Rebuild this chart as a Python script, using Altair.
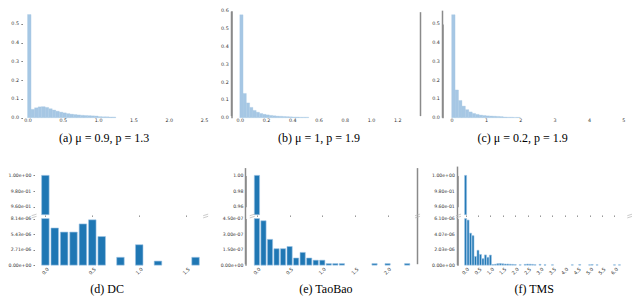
import altair as alt
import pandas as pd

W, H = 624, 289

def X(r):
    return r * 0.975 + 1

def Y(r):
    return (r - 1) * 0.945 + 2

def snap(v):
    return round(v - 0.5) + 0.5

# ---------------- data ----------------
a_bin = 0.05
a_vals = [0.550, 0.045, 0.053, 0.058, 0.059, 0.055, 0.048, 0.041, 0.035, 0.030,
          0.026, 0.022, 0.019, 0.017, 0.015, 0.013, 0.012, 0.011, 0.010, 0.009,
          0.006, 0.005, 0.005, 0.004, 0.004]
b_bin = 0.025
b_vals = [0.577, 0.136, 0.083, 0.058, 0.041, 0.031, 0.024, 0.019, 0.016, 0.013,
          0.011, 0.009, 0.008, 0.007, 0.006, 0.005, 0.004, 0.004, 0.003, 0.003, 0.003]
c_bin = 0.1
c_vals = [0.549, 0.148, 0.092, 0.062, 0.043, 0.031, 0.023, 0.018, 0.014, 0.012,
          0.010, 0.009, 0.008, 0.007, 0.006, 0.004, 0.003, 0.003, 0.002, 0.002]

dc_pos = [0.0, 0.1, 0.2, 0.3, 0.4, 0.5, 0.6, 0.8, 1.0, 1.2, 1.6]
dc_val = [1.0, 6.49e-6, 5.78e-6, 5.78e-6, 7.2e-6, 7.92e-6, 5.0e-6, 1.37e-6, 3.57e-6, 0.71e-6, 1.37e-6]

tb_pos = [0.0, 0.1, 0.2, 0.3, 0.4, 0.5, 0.6, 0.7, 0.8, 0.9, 1.0, 1.1, 1.2, 1.3, 1.8, 2.0, 2.3]
tb_val = [1.0, 4.29e-7, 2.49e-7, 1.59e-7, 1.59e-7, 1.8e-7, 0.69e-7, 1.23e-7, 0.69e-7, 0.48e-7,
          0.48e-7, 0.15e-7, 0.15e-7, 0.15e-7, 0.15e-7, 0.15e-7, 0.15e-7]

tms_pos = [0.0, 0.1, 0.2, 0.3, 0.4, 0.5, 0.6, 0.7, 0.8, 0.9, 1.0,
           1.1, 1.2, 1.3, 1.4, 1.5, 1.6, 1.7, 1.8, 1.9, 2.0,
           2.2, 2.4, 2.5, 2.6, 2.7, 2.8, 3.0, 3.2, 3.5, 4.3, 4.6, 5.0, 5.1, 5.3, 6.0, 6.2]
tms_val = [1.0, 5.9e-6, 4.19e-6, 3.86e-6, 1.14e-6, 1.95e-6, 1.4e-6, 0.85e-6, 1.34e-6, 1.02e-6, 1.32e-6,
           0.08e-6, 0.12e-6, 0.2e-6, 0.22e-6, 0.18e-6, 0.15e-6, 0.15e-6, 0.12e-6, 0.1e-6, 0.08e-6,
           0.05e-6, 0.1e-6, 0.14e-6, 0.12e-6, 0.1e-6, 0.06e-6, 0.1e-6, 0.06e-6, 0.05e-6, 0.05e-6,
           0.08e-6, 0.05e-6, 0.08e-6, 0.05e-6, 0.05e-6, 0.05e-6]

a_xticks = [0.0, 0.5, 1.0, 1.5, 2.0, 2.5]
b_xticks = [0.0, 0.2, 0.4, 0.6, 0.8, 1.0, 1.2]
c_xticks = [0, 1, 2, 3, 4, 5]
a_yticks = [0.0, 0.1, 0.2, 0.3, 0.4, 0.5]
b_yticks = [0.0, 0.1, 0.2, 0.3, 0.4, 0.5, 0.6]
c_yticks = [0.0, 0.1, 0.2, 0.3, 0.4, 0.5]

dc_xticks = [0.0, 0.5, 1.0, 1.5]
tb_xticks = [0.0, 0.5, 1.0, 1.5, 2.0]
tms_xticks = [0.0, 0.5, 1.0, 1.5, 2.0, 2.5, 3.0, 3.5, 4.0, 4.5, 5.0, 5.5, 6.0]

up_ticks = [0.96, 0.98, 1.0]
sci_up_labels = ["9.60e-01", "9.80e-01", "1.00e+00"]
tb_up_labels = ["0.96", "0.98", "1.00"]

dc_lo_ticks = [0.0, 2.7133e-6, 5.4267e-6, 8.14e-6]
dc_lo_labels = ["0.00e+00", "2.71e-06", "5.43e-06", "8.14e-06"]
tb_lo_ticks = [0.0, 1.5e-7, 3.0e-7, 4.5e-7]
tb_lo_labels = ["0.00e+00", "1.50e-07", "3.00e-07", "4.50e-07"]
tms_lo_ticks = [0.0, 2.0333e-6, 4.0667e-6, 6.1e-6]
tms_lo_labels = ["0.00e+00", "2.03e-06", "4.07e-06", "6.10e-06"]

captions = ["(a) μ = 0.9, p = 1.3", "(b) μ = 1, p = 1.9", "(c) μ = 0.2, p = 1.9",
            "(d) DC", "(e) TaoBao", "(f) TMS"]

# ---------------- styles ----------------
LIGHT = "#a6c7e4"
DARK = "#1f77b4"
EDGE = "#9cc3e4"
SPINE = "#8a8a8a"
LBL = dict(labelFont="DejaVu Sans", labelColor="#333333", grid=False,
           title=None, labelOverlap=False, labelFlush=False, labelBound=False)


def dom(show):
    if show:
        return dict(domain=True, domainColor=SPINE, domainWidth=1.5)
    return dict(domain=False)


def label_expr(values, labels):
    expr = "''"
    for v, l in reversed(list(zip(values, labels))):
        expr = f"datum.value == {v!r} ? '{l}' : ({expr})"
    return expr


def top_hist(vals, binw, xdom, xr, xticks, xfmt, ydom, yr, yticks, yaxis_x, ytick, ypad, spine):
    df = pd.DataFrame({"x0": [i * binw for i in range(len(vals))], "v": vals})
    df["x1"] = df["x0"] + binw
    return alt.Chart(df).mark_bar(color=LIGHT, stroke=LIGHT, strokeWidth=0.3).encode(
        x=alt.X("x0:Q",
                scale=alt.Scale(domain=xdom, range=xr, nice=False, zero=False),
                axis=alt.Axis(orient="bottom", offset=yr[0] - H, values=xticks, format=xfmt,
                              ticks=False, tickSize=0, labelPadding=2.5, labelFontSize=4.8,
                              labelAlign="center", labelBaseline="middle", domain=False, **LBL)),
        x2="x1:Q",
        y=alt.Y("v:Q",
                scale=alt.Scale(domain=ydom, range=yr, nice=False, zero=False),
                axis=alt.Axis(orient="left", offset=-snap(yaxis_x), values=yticks, format=".1f",
                              ticks=ytick > 0, tickSize=ytick, tickColor="#333333", tickWidth=0.6,
                              labelPadding=ypad, labelFontSize=4.8, labelAlign="right",
                              labelBaseline="middle", **dom(spine), **LBL)),
        y2=alt.datum(0),
    )


def bottom_panel(pos, vals, xdom, xr, xticks, up_labels, up_fmt, lo_max, lo_ticks, lo_labels,
                 yaxis_x, ytick, ypad, spine):
    df = pd.DataFrame({"p": pos, "v": vals})
    base = alt.Chart(df).transform_calculate(x0="datum.p - 0.04", x1="datum.p + 0.04")
    xs = alt.Scale(domain=xdom, range=xr, nice=False, zero=False)
    up_axis = dict(orient="left", offset=-snap(yaxis_x), values=up_ticks,
                   ticks=ytick > 0, tickSize=ytick, tickColor="#333333", tickWidth=0.6,
                   labelPadding=ypad, labelFontSize=4.6, labelAlign="right",
                   labelBaseline="middle", **dom(spine), **LBL)
    if up_fmt:
        up_axis["format"] = up_fmt
    else:
        up_axis["labelExpr"] = label_expr(up_ticks, up_labels)
    upper = base.transform_filter("datum.v >= 0.95").mark_bar(
        color=DARK, stroke=EDGE, strokeWidth=0.6).encode(
        x=alt.X("x0:Q", scale=xs,
                axis=alt.Axis(orient="bottom", offset=Y(218) - H, values=xticks, labels=False,
                              ticks=True, tickSize=1.2, tickColor="#555555", tickWidth=0.8,
                              grid=False, domain=False, title=None)),
        x2="x1:Q",
        y=alt.Y("v:Q", scale=alt.Scale(domain=[0.96, 1.0], range=[Y(209.3), Y(176)],
                                       nice=False, zero=False),
                axis=alt.Axis(**up_axis)),
        y2=alt.datum(0.95),
    )
    lower = base.mark_bar(color=DARK, stroke=EDGE, strokeWidth=0.6).encode(
        x=alt.X("x0:Q", scale=xs,
                axis=alt.Axis(orient="bottom", offset=Y(271) - H, values=xticks, format=".1f",
                              ticks=False, tickSize=0, labelAngle=315, labelAlign="center",
                              labelBaseline="middle", labelPadding=6, labelFontSize=4.8,
                              domain=False, **LBL)),
        x2="x1:Q",
        y=alt.Y("v:Q", scale=alt.Scale(domain=[0, lo_max], range=[Y(271), Y(221.7)],
                                       clamp=True, nice=False, zero=False),
                axis=alt.Axis(orient="left", offset=-snap(yaxis_x), values=lo_ticks,
                              labelExpr=label_expr(lo_ticks, lo_labels),
                              ticks=ytick > 0, tickSize=ytick, tickColor="#333333", tickWidth=0.6,
                              labelPadding=ypad, labelFontSize=4.6, labelAlign="right",
                              labelBaseline="middle", **dom(spine), **LBL)),
        y2=alt.datum(0),
    )
    return [upper, lower]


def vline(x, y1, y2, name):
    return alt.Chart(pd.DataFrame({"spine": [name]})).mark_rule(color=SPINE, strokeWidth=1.5).encode(
        x=alt.value(snap(x)), y=alt.value(y1), y2=alt.value(y2))


def brk(x, y):
    out = []
    for dy in (-1.1, 1.1):
        out.append(alt.Chart(pd.DataFrame({"k": [0]})).mark_rule(color="#b5b5b5", strokeWidth=0.7).encode(
            x=alt.value(x - 2.5), x2=alt.value(x + 2.5), y=alt.value(y + dy + 0.8), y2=alt.value(y + dy - 0.8)))
    return out


def caption(text, x, y):
    return alt.Chart(pd.DataFrame({"t": [text]})).mark_text(
        font="Liberation Serif", fontSize=12, color="black", align="center", baseline="middle").encode(
        x=alt.value(x), y=alt.value(y), text="t:N")


layers = []
layers.append(top_hist(a_vals, a_bin, [0, 2.5], [X(19), X(200)], a_xticks, ".1f",
                       [0, 0.5], [Y(115), Y(15.7)], a_yticks, X(13.5), 1.7, 2.3, False))
layers.append(top_hist(b_vals, b_bin, [0, 1.2], [X(236.7), X(398.3)], b_xticks, ".1f",
                       [0, 0.6], [Y(115), Y(1.7)], b_yticks, X(227.7), 0, 3.3, True))
layers.append(top_hist(c_vals, c_bin, [0, 5], [X(454), X(630)], c_xticks, "d",
                       [0, 0.5], [Y(115), Y(15.7)], c_yticks, X(444.3), 0, 3.2, True))

layers += bottom_panel(dc_pos, dc_val, [0, 1.5], [X(37.3), X(181.7)], dc_xticks,
                       sci_up_labels, None, 8.14e-6, dc_lo_ticks, dc_lo_labels, X(26.5), 1.5, 2.2, False)
layers += bottom_panel(tb_pos, tb_val, [0, 2.0], [X(254.3), X(388.3)], tb_xticks,
                       tb_up_labels, ".2f", 4.5e-7, tb_lo_ticks, tb_lo_labels, X(242.7), 0, 2.6, True)
layers += bottom_panel(tms_pos, tms_val, [0, 6.0], [X(468.3), X(621)], tms_xticks,
                       sci_up_labels, None, 6.1e-6, tms_lo_ticks, tms_lo_labels, X(460), 0, 3.2, True)

# spines
layers.append(vline(X(227.7), Y(2.7), Y(113.3), "b-left"))
layers.append(vline(X(422.3), Y(3.3), Y(113.3), "b-right"))
layers.append(vline(X(444.3), Y(1.7), Y(115), "c-left"))
layers.append(vline(X(242.7), Y(168.3), Y(270), "e-left"))
layers.append(vline(X(419), Y(168.3), Y(270), "e-right"))
layers.append(vline(X(460), Y(166.7), Y(271), "f-left"))

# break marks
for bx in (25.7, 201.7, 249.5, 419, 461, 636.7):
    layers += brk(X(bx), Y(219))

# captions
cap_pos = [(97.5, Y(136.7)), (318, Y(136.7)), (526.7, Y(136.7)),
           (100.7, Y(296.7)), (325, Y(296.7)), (538.7, Y(296.7))]
for t, (cx, cy) in zip(captions, cap_pos):
    layers.append(caption(t, X(cx), cy))

chart = alt.layer(*layers).resolve_scale(x="independent", y="independent").properties(
    width=W, height=H, autosize=alt.AutoSizeParams(type="none"), padding=0
).configure_view(strokeWidth=0)

chart.save("out.html", embed_options={"renderer": "svg", "actions": False})
